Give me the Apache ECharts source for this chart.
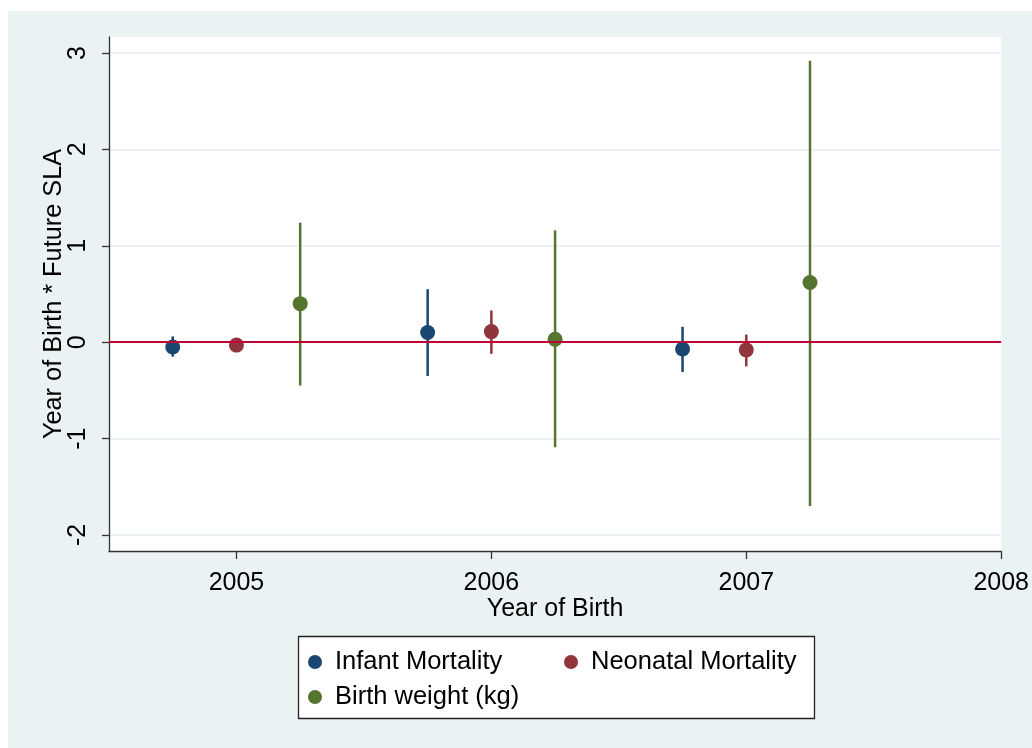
<!DOCTYPE html>
<html><head><meta charset="utf-8">
<script src="https://cdn.jsdelivr.net/npm/echarts@6/dist/echarts.min.js"></script>
<style>html,body{margin:0;padding:0;background:#fff;}#c{width:1032px;height:748px;}</style>
</head><body><div id="c"></div>
<script>
const years = [2005, 2006, 2007];
const xTicks = [2005, 2006, 2007, 2008];
const yTicks = [-2, -1, 0, 1, 2, 3];
const offsets = [-0.25, 0, 0.25];
const seriesNames = ['Infant Mortality', 'Neonatal Mortality', 'Birth weight (kg)'];
const colors = ['#1a476f', '#90353b', '#55752f'];
const infantEst = [-0.05, 0.10, -0.07];
const infantLo = [-0.15, -0.35, -0.31];
const infantHi = [0.06, 0.55, 0.16];
const neoEst = [-0.03, 0.11, -0.08];
const neoLo = [-0.07, -0.12, -0.25];
const neoHi = [0.01, 0.33, 0.08];
const bwEst = [0.40, 0.03, 0.62];
const bwLo = [-0.45, -1.09, -1.70];
const bwHi = [1.24, 1.16, 2.92];

const est = [infantEst, neoEst, bwEst];
const lo = [infantLo, neoLo, bwLo];
const hi = [infantHi, neoHi, bwHi];

const series = [];
seriesNames.forEach((name, k) => {
  const bars = years.map((y, i) => [y + offsets[k], lo[k][i], hi[k][i]]);
  series.push({
    type: 'custom', name: name + ' CI', silent: true, z: 3,
    data: bars,
    renderItem: function (params, api) {
      const p1 = api.coord([api.value(0), api.value(1)]);
      const p2 = api.coord([api.value(0), api.value(2)]);
      return { type: 'line', shape: { x1: p1[0], y1: p1[1], x2: p2[0], y2: p2[1] },
        style: { stroke: colors[k], lineWidth: 2.5 } };
    }
  });
  series.push({
    type: 'scatter', name: name, z: 4,
    symbol: 'circle', symbolSize: 15,
    itemStyle: { color: colors[k], opacity: 1 },
    data: years.map((y, i) => [y + offsets[k], est[k][i]])
  });
});
// zero reference line
series.push({
  type: 'line', name: 'zero', silent: true, z: 2, data: [],
  markLine: { symbol: 'none', silent: true, label: { show: false },
    lineStyle: { color: '#c10534', width: 2, type: 'solid' },
    data: [{ yAxis: 0 }] }
});

const chart = echarts.init(document.getElementById('c'), null, { renderer: 'canvas' });
chart.setOption({
  backgroundColor: '#ffffff',
  animation: false,
  textStyle: { fontFamily: 'Liberation Sans, Arial, sans-serif' },
  graphic: [
    { type: 'rect', z: -10, silent: true, shape: { x: 8, y: 11, width: 1024, height: 737 }, style: { fill: '#eaf2f3' } },
    { type: 'rect', z: -5, silent: true, shape: { x: 298.5, y: 636.5, width: 516, height: 82 }, style: { fill: '#ffffff', stroke: '#222', lineWidth: 1.3 } }
  ],
  grid: { left: 109, top: 37, width: 894, height: 514, show: true, backgroundColor: '#ffffff', borderWidth: 0, containLabel: false },
  legend: {
    data: seriesNames, left: 308, top: 648, padding: 0,
    orient: 'horizontal', width: 540, itemGap: 7,
    icon: 'circle', itemWidth: 30, itemHeight: 14,
    textStyle: { fontSize: 25.5, color: '#000', width: 222, lineHeight: 28, fontFamily: 'Liberation Sans, Arial, sans-serif' },
    selectedMode: false
  },
  xAxis: {
    type: 'value', min: 2004.5, max: 2008,
    name: 'Year of Birth', nameLocation: 'middle', nameGap: 46, nameMoveOverlap: false,
    nameTextStyle: { fontSize: 25, color: '#000' },
    axisLine: { show: true, onZero: false, lineStyle: { color: '#333', width: 1.3 } },
    axisTick: { show: true, length: 8, customValues: xTicks, lineStyle: { color: '#333', width: 1.3 } },
    axisLabel: { customValues: xTicks, fontSize: 25, color: '#000', margin: 20, formatter: v => String(v) },
    splitLine: { show: false }
  },
  yAxis: {
    type: 'value', min: -2.166, max: 3.166,
    name: 'Year of Birth * Future SLA', nameLocation: 'middle', nameGap: 42, nameRotate: 90, nameMoveOverlap: false,
    nameTextStyle: { fontSize: 25.3, color: '#000' },
    axisLine: { show: true, onZero: false, lineStyle: { color: '#333', width: 1.3 } },
    axisTick: { show: true, length: 7, customValues: yTicks, lineStyle: { color: '#333', width: 1.3 } },
    axisLabel: { customValues: yTicks, fontSize: 25, color: '#000', margin: 18, rotate: 90, formatter: v => String(v) },
    splitLine: { show: true, lineStyle: { color: '#eaf2f3', width: 2 } }
  },
  series: series
});
</script></body></html>
